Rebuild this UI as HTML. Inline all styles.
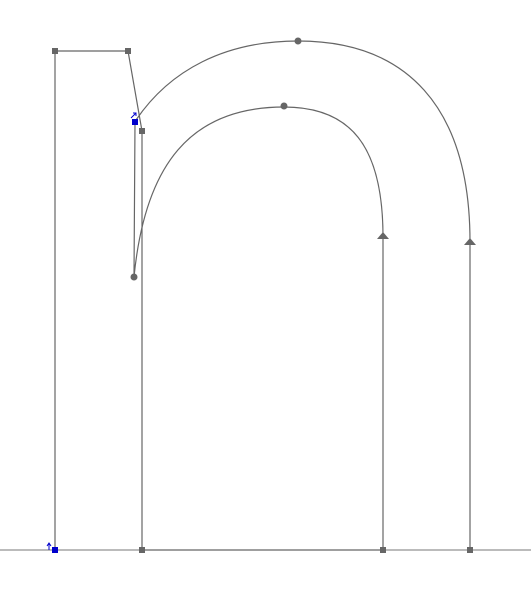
<!DOCTYPE html>
<html><head><meta charset="utf-8"><style>
html,body{margin:0;padding:0;background:#fff;width:531px;height:600px;overflow:hidden}
svg{display:block}
</style></head><body>
<svg width="531" height="600" viewBox="0 0 531 600">
<line x1="0" y1="550" x2="531" y2="550" stroke="#777" stroke-width="1"/>
<g fill="none" stroke="#666" stroke-width="1.2">
<path d="M55,550 L55,51 L128,51 L142,131 L142,550 L383,550 L383,237"/>
<path d="M383,237 C383,145 350,107 284,107 C190,107 145,165 134,277 L135,122"/>
<path d="M136,120 C170,70 225,41 298,41 C405,41 470,105 470,242 L470,550"/>
</g>
<g fill="#666">
<rect x="52" y="48" width="6" height="6"/>
<rect x="125" y="48" width="6" height="6"/>
<rect x="139" y="128" width="6" height="6"/>
<rect x="139" y="547" width="6" height="6"/>
<rect x="380" y="547" width="6" height="6"/>
<rect x="467" y="547" width="6" height="6"/>
<circle cx="298" cy="41" r="3.5"/>
<circle cx="284" cy="106" r="3.5"/>
<circle cx="134" cy="277" r="3.5"/>
<path d="M377,239 L383,232 L389,239 Z"/>
<path d="M464,245 L470,238 L476,245 Z"/>
</g>
<g fill="#0000cc" stroke="#0000cc">
<rect x="132" y="119" width="6" height="6" stroke="none"/>
<path d="M131,118 L136,113 M133,113 L136,113 L136,116" fill="none" stroke-width="1"/>
<rect x="52" y="547" width="6" height="6" stroke="none"/>
<path d="M49,550 L49,544 M47,546 L49,543 L51,546" fill="none" stroke-width="1"/>
</g>
</svg>
</body></html>
